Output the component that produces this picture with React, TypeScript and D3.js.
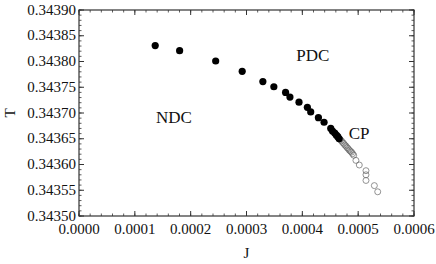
import * as d3 from 'd3';

// ── Layout ────────────────────────────────────────────────────────────────────
const VW = 436;
const VH = 264;
const M = { top: 10, right: 22, bottom: 48, left: 79 };
const IW = VW - M.left - M.right;
const IH = VH - M.top - M.bottom;

const FONT = '"Liberation Serif", "Times New Roman", serif';
const FRAME = '#333';

// ── Data ──────────────────────────────────────────────────────────────────────
// filled circles (phase boundary, first-order part)
const filledJ = [
  0.0001365, 0.0001802, 0.0002448, 0.0002923, 0.0003293, 0.000349, 0.00037,
  0.0003778, 0.000394, 0.000409, 0.000415, 0.0004288, 0.0004389, 0.0004509,
  0.000454, 0.000458, 0.000461, 0.0004635, 0.000466,
];
const filledT = [
  0.343831, 0.343821, 0.343801, 0.343781, 0.343761, 0.343751, 0.34374,
  0.343731, 0.343721, 0.343711, 0.343702, 0.343691, 0.343682, 0.34367,
  0.343665, 0.343661, 0.343657, 0.343654, 0.34365,
];

// open circles (beyond the critical point)
const openJ = [
  0.000468, 0.00047, 0.000472, 0.000474, 0.000476, 0.000478, 0.00048,
  0.000482, 0.000484, 0.000486, 0.000488, 0.00049, 0.000492, 0.000496,
  0.000502, 0.000514, 0.000514, 0.000514, 0.000529, 0.000535,
];
const openT = [
  0.343648, 0.343646, 0.343643, 0.343641, 0.343638, 0.343636, 0.343633,
  0.343631, 0.343628, 0.343626, 0.343624, 0.343621, 0.343618, 0.343608,
  0.343599, 0.343588, 0.34358, 0.343569, 0.343559, 0.343547,
];

const xTicks = [0, 0.0001, 0.0002, 0.0003, 0.0004, 0.0005, 0.0006];
const yTicks = [0.3435, 0.34355, 0.3436, 0.34365, 0.3437, 0.34375, 0.3438, 0.34385, 0.3439];

const regionLabels = [
  { text: 'NDC', j: 0.000138, t: 0.343693 },
  { text: 'PDC', j: 0.000389, t: 0.343812 },
  { text: 'CP', j: 0.000483, t: 0.343662 },
];

// ── Component ─────────────────────────────────────────────────────────────────
export default function App() {
  const x = d3.scaleLinear().domain([0, 0.0006]).range([0, IW]);
  const y = d3.scaleLinear().domain([0.3435, 0.3439]).range([IH, 0]);

  const xMinor = d3.range(0, 0.0006 + 1e-9, 0.00002);
  const yMinor = d3.range(0.3435, 0.3439 + 1e-9, 0.00001);

  return (
    <svg
      width={VW}
      height={VH}
      style={{ display: 'block', position: 'absolute', left: 0, top: 0 }}
      fontFamily={FONT}
    >
      <rect width={VW} height={VH} fill="#fff" />
      <g transform={`translate(${M.left},${M.top})`}>
        {/* minor ticks */}
        {xMinor.map((v, i) => (
          <g key={`xm${i}`}>
            <line x1={x(v)} x2={x(v)} y1={IH} y2={IH - 2.5} stroke={FRAME} strokeWidth={0.8} />
            <line x1={x(v)} x2={x(v)} y1={0} y2={2.5} stroke={FRAME} strokeWidth={0.8} />
          </g>
        ))}
        {yMinor.map((v, i) => (
          <g key={`ym${i}`}>
            <line x1={0} x2={2.5} y1={y(v)} y2={y(v)} stroke={FRAME} strokeWidth={0.8} />
            <line x1={IW} x2={IW - 2.5} y1={y(v)} y2={y(v)} stroke={FRAME} strokeWidth={0.8} />
          </g>
        ))}

        {/* major ticks + labels */}
        {xTicks.map((v, i) => (
          <g key={`x${i}`}>
            <line x1={x(v)} x2={x(v)} y1={IH} y2={IH - 5} stroke={FRAME} strokeWidth={1} />
            <line x1={x(v)} x2={x(v)} y1={0} y2={5} stroke={FRAME} strokeWidth={1} />
            <text x={x(v)} y={IH + 18} textAnchor="middle" fontSize={15} fill="#111">
              {v.toFixed(4)}
            </text>
          </g>
        ))}
        {yTicks.map((v, i) => (
          <g key={`y${i}`}>
            <line x1={0} x2={5} y1={y(v)} y2={y(v)} stroke={FRAME} strokeWidth={1} />
            <line x1={IW} x2={IW - 5} y1={y(v)} y2={y(v)} stroke={FRAME} strokeWidth={1} />
            <text x={-3} y={y(v)} dy="0.3em" textAnchor="end" fontSize={15} fill="#111">
              {v.toFixed(5)}
            </text>
          </g>
        ))}

        <rect x={0} y={0} width={IW} height={IH} fill="none" stroke={FRAME} strokeWidth={1.2} />

        {/* open circles */}
        {openJ.map((j, i) => (
          <circle key={`o${i}`} cx={x(j)} cy={y(openT[i])} r={3} fill="none" stroke="#666" strokeWidth={0.7} />
        ))}
        {/* filled circles */}
        {filledJ.map((j, i) => (
          <circle key={`f${i}`} cx={x(j)} cy={y(filledT[i])} r={3.6} fill="#000" />
        ))}

        {regionLabels.map(l => (
          <text key={l.text} x={x(l.j)} y={y(l.t)} dy="0.35em" fontSize={17} fill="#111">
            {l.text}
          </text>
        ))}
      </g>

      <text x={M.left + IW / 2} y={258} textAnchor="middle" fontSize={15} fill="#111">J</text>
      <text transform={`translate(15,${M.top + IH / 2}) rotate(-90)`} textAnchor="middle" fontSize={15} fill="#111">T</text>
    </svg>
  );
}
